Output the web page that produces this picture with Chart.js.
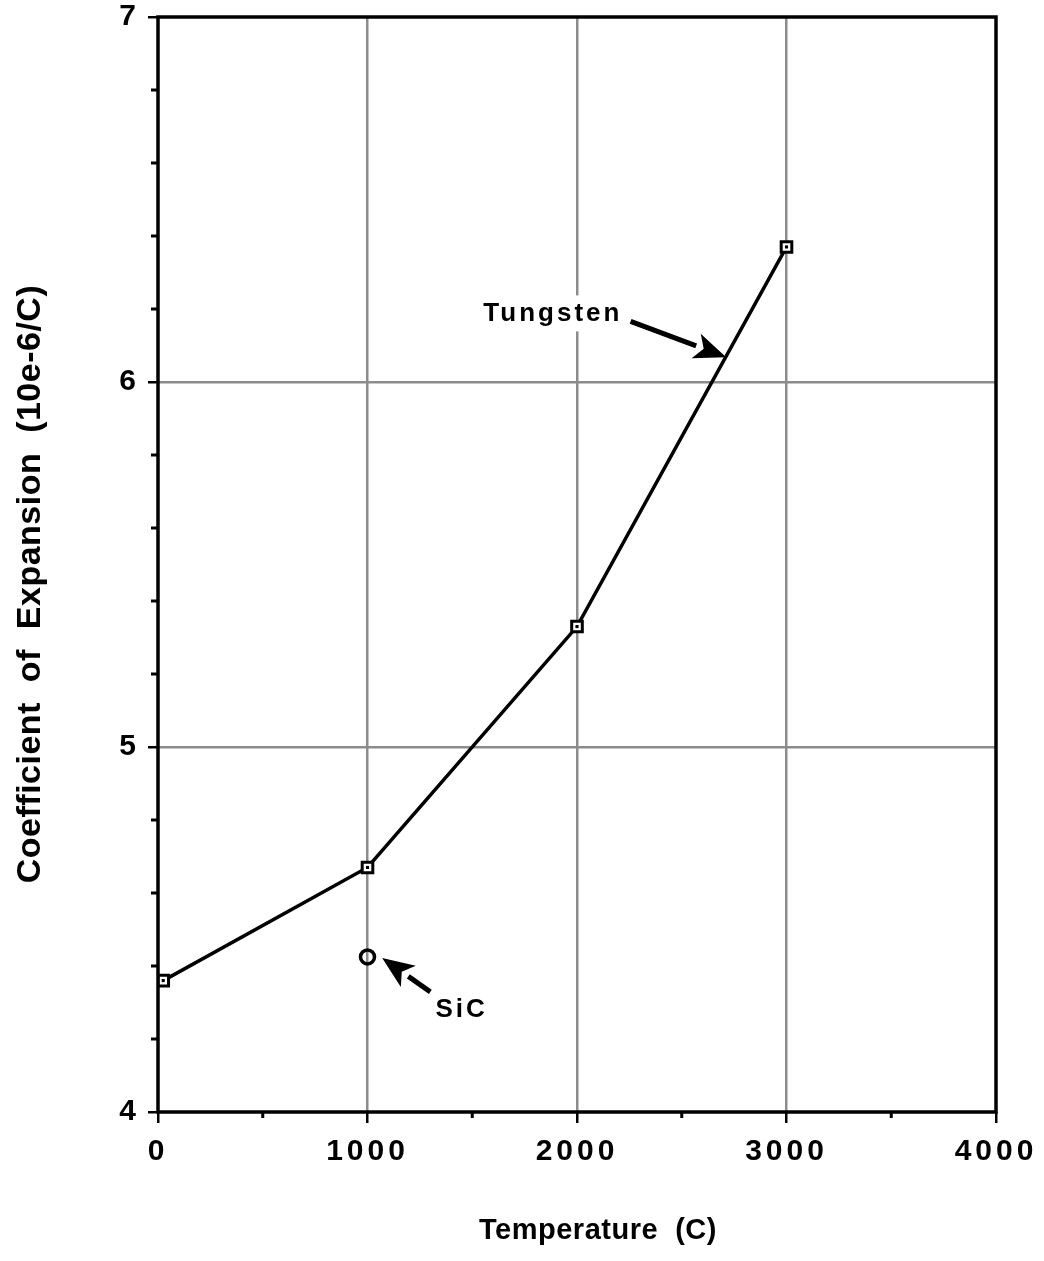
<!DOCTYPE html>
<html>
<head>
<meta charset="utf-8">
<script src="https://cdn.jsdelivr.net/npm/chart.js@4.4.1/dist/chart.umd.min.js"></script>
<style>
  body { margin: 0; background: #fff; }
  canvas { display: block; }
</style>
</head>
<body>
<canvas id="expansionChart" width="1044" height="1261"></canvas>
<script>
// temperature (C) vs coefficient of expansion (10e-6/C)
var tungstenTemps = [25, 1000, 2000, 3000];
var tungstenCoef = [4.36, 4.67, 5.33, 6.37];
var sicTemps = [1000];
var sicCoef = [4.425];

var xTicks = [0, 1000, 2000, 3000, 4000];
var yTicks = [4, 5, 6, 7];

var fontFamily = "'Liberation Sans', Arial, Helvetica, sans-serif";

function toPoints(xs, ys) {
    return xs.map(function (x, i) {
        return { x: x, y: ys[i] };
    });
}

function drawArrow(ctx, x1, y1, x2, y2, head, half) {
    var ang = Math.atan2(y2 - y1, x2 - x1);
    var bx = x2 - head * Math.cos(ang);
    var by = y2 - head * Math.sin(ang);
    ctx.beginPath();
    ctx.moveTo(x1, y1);
    ctx.lineTo(bx, by);
    ctx.stroke();
    ctx.beginPath();
    ctx.moveTo(x2, y2);
    ctx.lineTo(bx + half * Math.sin(ang), by - half * Math.cos(ang));
    ctx.lineTo(bx + head * 0.25 * Math.cos(ang), by + head * 0.25 * Math.sin(ang));
    ctx.lineTo(bx - half * Math.sin(ang), by + half * Math.cos(ang));
    ctx.closePath();
    ctx.fill();
}

var framePlugin = {
    id: "frame",
    beforeDraw: function (chart) {
        chart.ctx.letterSpacing = "4px";
    },
    afterDraw: function (chart) {
        var ctx = chart.ctx;
        var a = chart.chartArea;
        var xs = chart.scales.x;
        var ys = chart.scales.y;
        ctx.save();
        ctx.strokeStyle = "#000";
        ctx.fillStyle = "#000";

        // minor ticks
        ctx.lineWidth = 3;
        for (var v = 500; v < 4000; v += 1000) {
            var px = xs.getPixelForValue(v);
            ctx.beginPath();
            ctx.moveTo(px, a.bottom);
            ctx.lineTo(px, a.bottom + 6);
            ctx.stroke();
        }
        for (var k = 1; k < 15; k++) {
            if (k % 5 === 0) continue;
            var py = ys.getPixelForValue(4 + k * 0.2);
            ctx.beginPath();
            ctx.moveTo(a.left, py);
            ctx.lineTo(a.left - 7, py);
            ctx.stroke();
        }

        // frame
        ctx.lineWidth = 3.5;
        ctx.strokeRect(a.left, a.top, a.right - a.left, a.bottom - a.top);

        // annotations
        ctx.font = "bold 26px " + fontFamily;
        ctx.letterSpacing = "3px";
        ctx.textBaseline = "alphabetic";
        ctx.textAlign = "left";
        var tx = xs.getPixelForValue(1553);
        var ty = ys.getPixelForValue(6.166);
        var tw = ctx.measureText("Tungsten").width;
        ctx.fillStyle = "#fff";
        ctx.fillRect(tx - 4, ty - 26, tw + 6, 36);
        ctx.fillStyle = "#000";
        ctx.fillText("Tungsten", tx, ty);
        ctx.lineWidth = 5;
        drawArrow(ctx, xs.getPixelForValue(2256), ys.getPixelForValue(6.166),
            xs.getPixelForValue(2712), ys.getPixelForValue(6.068), 32, 13);

        ctx.fillText("SiC", xs.getPixelForValue(1324), ys.getPixelForValue(4.26));
        drawArrow(ctx, xs.getPixelForValue(1300), ys.getPixelForValue(4.329),
            xs.getPixelForValue(1070), ys.getPixelForValue(4.422), 32, 13);

        // axis titles
        ctx.letterSpacing = "0.5px";
        ctx.textAlign = "center";
        ctx.textBaseline = "middle";
        ctx.font = "bold 29px " + fontFamily;
        ctx.fillText("Temperature  (C)", 598, 1231);
        ctx.translate(31, 584);
        ctx.rotate(-Math.PI / 2);
        ctx.font = "bold 34px " + fontFamily;
        ctx.fillText("Coefficient  of  Expansion  (10e-6/C)", 0, 0);
        ctx.restore();
    },
};

function gridColor(ctx) {
    var t = ctx.tick;
    if (!t) return "rgba(0,0,0,0)";
    var s = ctx.scale;
    if (t.value === s.min || t.value === s.max) return "rgba(0,0,0,0)";
    return "#8c8c8c";
}

new Chart("expansionChart", {
    type: "scatter",
    data: {
        datasets: [
            {
                label: "Tungsten",
                data: toPoints(tungstenTemps, tungstenCoef),
                showLine: true,
                borderColor: "#000",
                borderWidth: 3.5,
                pointStyle: "rect",
                pointRadius: 7.5,
                pointBorderWidth: 3,
                pointBackgroundColor: "#fff",
                pointBorderColor: "#000",
                order: 2,
            },
            {
                label: "Tungsten centre",
                data: toPoints(tungstenTemps, tungstenCoef),
                showLine: false,
                pointStyle: "rect",
                pointRadius: 2.2,
                pointBorderWidth: 0,
                pointBackgroundColor: "#000",
                order: 1,
            },
            {
                label: "SiC",
                data: toPoints(sicTemps, sicCoef),
                showLine: false,
                pointStyle: "circle",
                pointRadius: 7,
                pointBorderWidth: 3.5,
                pointBackgroundColor: "rgba(0,0,0,0)",
                pointBorderColor: "#000",
                order: 1,
            },
        ],
    },
    options: {
        responsive: false,
        animation: false,
        devicePixelRatio: 1,
        layout: {
            padding: { top: 17, right: 48, left: 0, bottom: 0 },
        },
        plugins: {
            legend: { display: false },
            tooltip: { enabled: false },
        },
        scales: {
            x: {
                type: "linear",
                min: 0,
                max: 4000,
                afterFit: function (scale) {
                    scale.height = 149;
                    scale.paddingLeft = 0;
                    scale.paddingRight = 0;
                },
                afterBuildTicks: function (scale) {
                    scale.ticks = xTicks.map(function (v) {
                        return { value: v };
                    });
                },
                grid: {
                    color: gridColor,
                    lineWidth: 2.5,
                    tickColor: "#000",
                    tickLength: 11,
                },
                border: { display: false },
                ticks: {
                    color: "#000",
                    padding: 11,
                    maxRotation: 0,
                    font: { family: fontFamily, size: 30, weight: "bold" },
                    callback: function (v) {
                        return String(v);
                    },
                },
            },
            y: {
                type: "linear",
                min: 4,
                max: 7,
                afterFit: function (scale) {
                    scale.width = 158;
                    scale.paddingTop = 0;
                    scale.paddingBottom = 0;
                },
                afterBuildTicks: function (scale) {
                    scale.ticks = yTicks.map(function (v) {
                        return { value: v };
                    });
                },
                grid: {
                    color: gridColor,
                    lineWidth: 2.5,
                    tickColor: "#000",
                    tickLength: 10,
                },
                border: { display: false },
                ticks: {
                    color: "#000",
                    padding: 8,
                    font: { family: fontFamily, size: 30, weight: "bold" },
                    callback: function (v) {
                        return String(v);
                    },
                },
            },
        },
    },
    plugins: [framePlugin],
});
</script>
</body>
</html>
